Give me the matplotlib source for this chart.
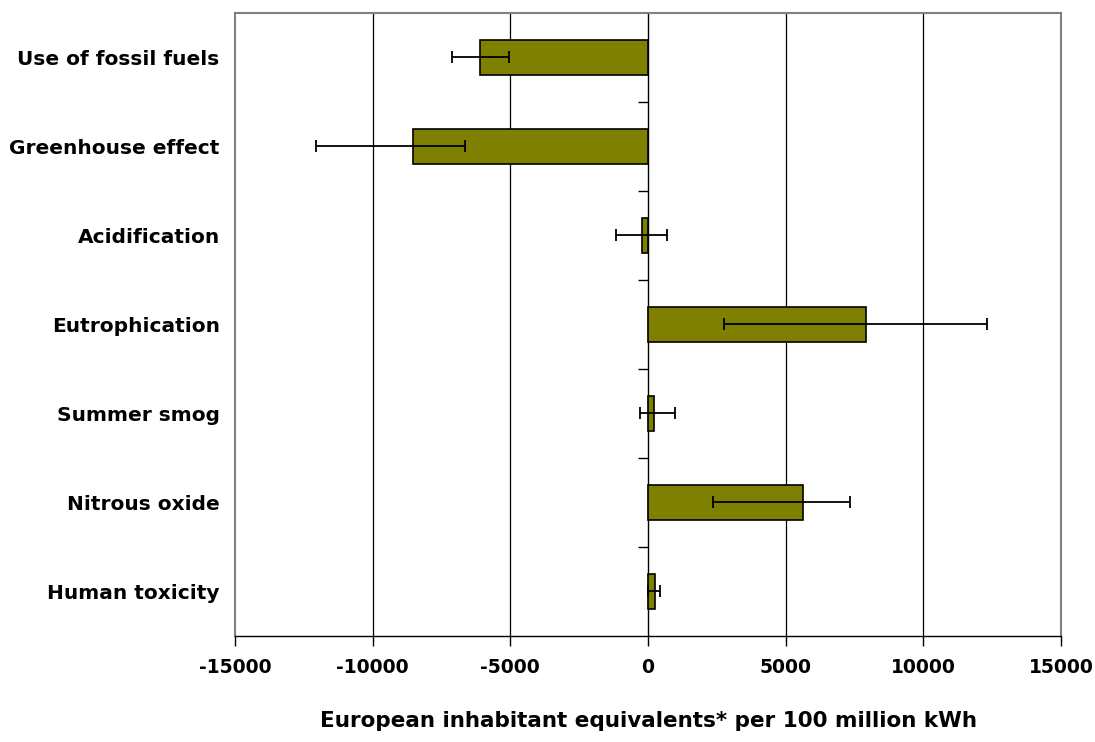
import numpy as np
import matplotlib.pyplot as plt

plt.rcParams["font.family"] = ["DejaVu Sans"]
plt.rcParams["font.weight"] = "bold"

categories = ["Use of fossil fuels", "Greenhouse effect", "Acidification",
              "Eutrophication", "Summer smog", "Nitrous oxide", "Human toxicity"]
values = [-6090, -8550, -230, 7910, 210, 5620, 265]
err_low = [1040, 3520, 940, 5160, 490, 3260, 265]
err_high = [1050, 1890, 930, 4390, 760, 1720, 170]

fig = plt.figure(figsize=(10.95, 7.42), dpi=100)
ax = fig.add_axes([0.2146, 0.1429, 0.969 - 0.2146, 0.9825 - 0.1429])

y = np.arange(len(categories))
ax.set_xlim(-15000, 15000)
ax.set_ylim(len(categories) - 0.5, -0.5)

# vertical gridlines
for gx in [-10000, -5000, 5000, 10000]:
    ax.axvline(gx, color="black", lw=0.9, zorder=0)

ax.barh(y, values, height=0.39, color="#808000", edgecolor="black", lw=1.2, zorder=2)
ax.errorbar(values, y, xerr=[err_low, err_high], fmt="none", ecolor="black",
            elinewidth=1.3, capsize=4, capthick=1.3, zorder=3)

# zero axis with small ticks between categories
ax.axvline(0, color="black", lw=1.0, zorder=1)
bounds = np.arange(len(categories) - 1) + 0.5
ax.plot(np.zeros_like(bounds), bounds, ls="none", marker=0, ms=7,
        mew=1.0, color="black", zorder=1)

ax.set_yticks(y)
ax.set_yticklabels(categories, fontsize=14.5, fontweight="bold")
ax.tick_params(axis="y", length=0, pad=11)
ax.set_xticks(np.arange(-15000, 15001, 5000))
ax.set_xticklabels([str(v) for v in range(-15000, 15001, 5000)],
                   fontsize=13.5, fontweight="bold")
ax.tick_params(axis="x", length=7, width=1.0, direction="out", pad=9)

for side in ["top", "left", "right"]:
    ax.spines[side].set_color("#808080")
    ax.spines[side].set_linewidth(1.5)
ax.spines["bottom"].set_color("black")
ax.spines["bottom"].set_linewidth(1.0)

ax.set_xlabel("European inhabitant equivalents* per 100 million kWh",
              fontsize=15.5, fontweight="bold", labelpad=24)

fig.savefig("out.png", dpi=100)
